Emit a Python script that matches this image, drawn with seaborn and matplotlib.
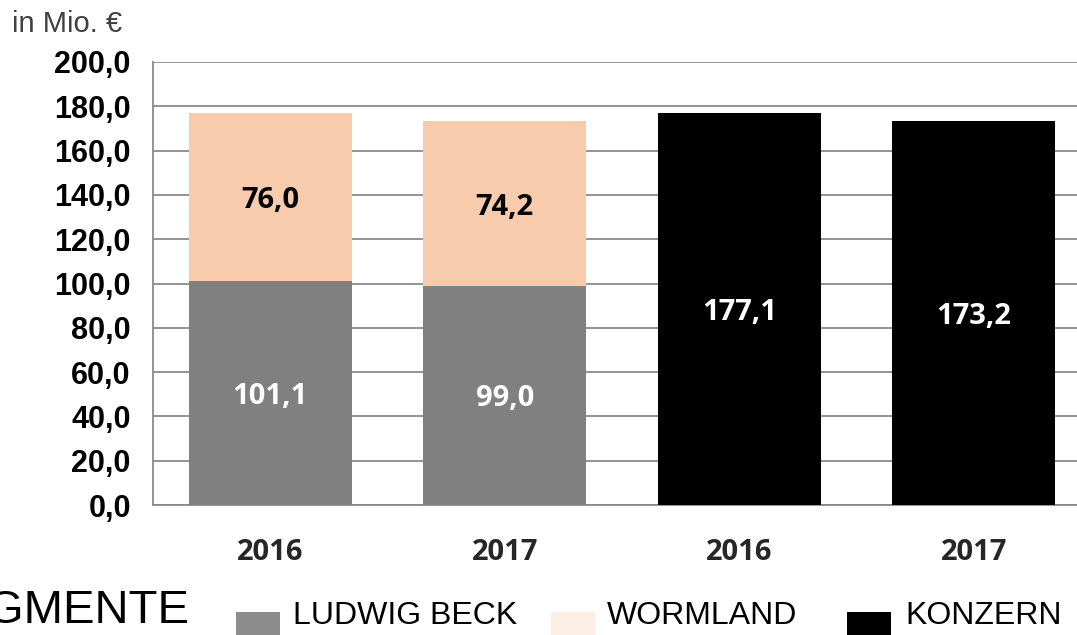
import matplotlib
matplotlib.use("Agg")
import matplotlib.pyplot as plt
import seaborn as sns
import numpy as np
from matplotlib.patches import Rectangle
from matplotlib.ticker import FixedLocator, FuncFormatter

# ---- data ----
categories = ["LB 2016", "LB 2017", "KON 2016", "KON 2017"]
tick_labels = ["2016", "2017", "2016", "2017"]
ludwig_beck = [101.1, 99.0]
wormland = [76.0, 74.2]
konzern = [177.1, 173.2]
legend_labels = ["LUDWIG BECK", "WORMLAND", "KONZERN"]
title_text = "SEGMENTE"
unit_text = "in Mio. €"

C_LB = "#808080"
C_WL = "#f8cbad"
C_KO = "#000000"
C_LB_LEG = "#8c8c8c"
C_WL_LEG = "#fbeee2"
GRID = "#8a8a8a"

sns.set_theme(style="white")
plt.rcParams["font.family"] = ["Liberation Sans", "DejaVu Sans"]

W, H = 1077, 635
fig = plt.figure(figsize=(W / 100, H / 100), dpi=100)
ax = fig.add_axes([153 / W, (H - 505) / H, 938 / W, 443 / H])

bw = 0.695
totals = [a + b for a, b in zip(ludwig_beck, wormland)]
common = dict(order=categories, width=bw, saturation=1, ax=ax, zorder=3, linewidth=0)
sns.barplot(x=categories[:2], y=totals, color=C_WL, **common)
sns.barplot(x=categories[:2], y=ludwig_beck, color=C_LB, **common)
sns.barplot(x=categories[2:], y=konzern, color=C_KO, **common)

fmt = lambda v: f"{v:.1f}".replace(".", ",")
lab_font = dict(family=["Open Sans", "DejaVu Sans"], fontweight="bold", fontsize=21)
for i, (lb, wl) in enumerate(zip(ludwig_beck, wormland)):
    ax.text(i, lb / 2, fmt(lb), ha="center", va="center_baseline", color="white", zorder=5, **lab_font)
    ax.text(i, lb + wl / 2, fmt(wl), ha="center", va="center_baseline", color="black", zorder=5, **lab_font)
for j, k in enumerate(konzern):
    ax.text(j + 2, k / 2, fmt(k), ha="center", va="center_baseline", color="white", zorder=5, **lab_font)

ax.set_xlim(-0.5, 3.5)
ax.set_ylim(0, 200)
ax.yaxis.set_major_locator(FixedLocator(np.arange(0, 201, 20)))
ax.yaxis.set_major_formatter(FuncFormatter(lambda v, p: fmt(v)))
ax.grid(axis="y", color=GRID, linewidth=1.3, zorder=0)
ax.set_axisbelow(True)
ax.set_xlabel("")
ax.set_ylabel("")

ax.set_xticks(range(4))
ax.set_xticklabels(tick_labels, family=["Open Sans", "DejaVu Sans"], fontweight="bold", fontsize=21)
ax.set_xticks([-0.5, 0.5, 1.5, 2.5, 3.5], minor=True)
ax.tick_params(axis="x", which="major", length=0, pad=24)
ax.tick_params(axis="x", which="minor", length=10, width=1.3, color=GRID, direction="out")
ax.tick_params(axis="y", length=8, width=1.3, color=GRID, direction="out", pad=8)
for t in ax.get_yticklabels():
    t.set_fontweight("bold")
    t.set_fontsize(22)
    t.set_color("black")

for s in ["top", "right"]:
    ax.spines[s].set_visible(False)
for s in ["left", "bottom"]:
    ax.spines[s].set_color(GRID)
    ax.spines[s].set_linewidth(1.3)

fig.text(12 / W, 1 - 24 / H, unit_text, fontsize=21, color="#404040", ha="left", va="center")

# legend row
fig.text(190 / W, 1 - 611 / H, title_text, fontsize=34, color="black", ha="right", va="center")
leg = [(236, C_LB_LEG, 293), (551, C_WL_LEG, 607), (847, C_KO, 905)]
for (px, col, tx), lab in zip(leg, legend_labels):
    fig.add_artist(Rectangle((px / W, (H - 638) / H), 44 / W, 26 / H,
                             transform=fig.transFigure, facecolor=col, edgecolor="none"))
    fig.text(tx / W, 1 - 616 / H, lab, fontsize=23, color="black", ha="left", va="center")

fig.savefig("out.png", dpi=100)
